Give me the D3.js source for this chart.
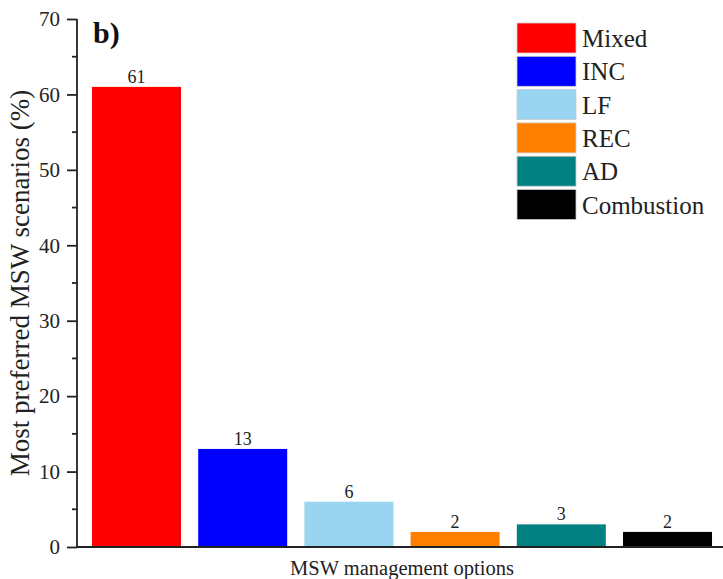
<!DOCTYPE html>
<html><head><meta charset="utf-8">
<script src="https://cdn.jsdelivr.net/npm/d3@7"></script>
<style>body{margin:0;background:#fff}svg{display:block;font-family:"Liberation Serif","Times New Roman",serif}</style>
</head><body><svg id="c" width="723" height="579"></svg>
<script>
const categories = ["Mixed","INC","LF","REC","AD","Combustion"];
const values = [61,13,6,2,3,2];
const colors = ["#ff0000","#0000ff","#99d4f0","#ff8000","#008080","#000000"];
const yTicks = [0,10,20,30,40,50,60,70];
const yMinor = [5,15,25,35,45,55,65];

const svg = d3.select("#c");
const x0 = 77, yTop = 19, yBot = 547;
const y = d3.scaleLinear().domain([0,70]).range([yBot,yTop]);
const x = d3.scaleBand().domain(categories).range([x0,727]).paddingInner(0.162).paddingOuter(0.141);
const col = d3.scaleOrdinal().domain(categories).range(colors);

svg.selectAll("rect.bar").data(categories).join("rect").attr("class","bar")
  .attr("x",d=>x(d)).attr("width",x.bandwidth())
  .attr("y",(d,i)=>y(values[i])).attr("height",(d,i)=>yBot-y(values[i]))
  .attr("fill",d=>col(d));

svg.selectAll("text.val").data(categories).join("text").attr("class","val")
  .attr("x",d=>x(d)+x.bandwidth()/2).attr("y",(d,i)=>y(values[i])-4)
  .attr("text-anchor","middle").attr("font-size",18).attr("fill","#222")
  .text((d,i)=>values[i]);

// y axis
const ya = d3.axisLeft(y).tickValues(yTicks).tickSize(10).tickPadding(7).tickFormat(d3.format("d"));
const g = svg.append("g").attr("transform",`translate(${x0},0)`).call(ya);
g.select(".domain").attr("stroke","#222").attr("stroke-width",1.8).attr("d",`M0,${yTop}V${yBot}`);
g.selectAll(".tick line").attr("stroke","#222").attr("stroke-width",1.8);
g.selectAll(".tick text").attr("font-size",21).attr("fill","#222").attr("font-family","Liberation Serif, Times New Roman, serif");
svg.append("g").selectAll("line").data(yMinor).join("line")
  .attr("x1",x0-5).attr("x2",x0).attr("y1",d=>y(d)).attr("y2",d=>y(d))
  .attr("stroke","#222").attr("stroke-width",1.8);
// x axis line
svg.append("line").attr("x1",x0-1).attr("x2",723).attr("y1",yBot).attr("y2",yBot)
  .attr("stroke","#222").attr("stroke-width",1.8);

svg.append("text").attr("x",93).attr("y",43).attr("font-size",30).attr("font-weight","bold").attr("fill","#111").text("b)");

svg.append("text").attr("transform",`translate(29,283) rotate(-90)`)
  .attr("text-anchor","middle").attr("font-size",27).attr("fill","#222")
  .text("Most preferred MSW scenarios (%)");
svg.append("text").attr("x",402).attr("y",575).attr("text-anchor","middle")
  .attr("font-size",20.5).attr("fill","#222").text("MSW management options");

// legend
const lg = svg.append("g").selectAll("g").data(categories).join("g")
  .attr("transform",(d,i)=>`translate(517,${23+i*33.3})`);
lg.append("rect").attr("width",59).attr("height",30).attr("fill",d=>col(d)).attr("stroke","#ccc").attr("stroke-width",0.8);
lg.append("text").attr("x",65).attr("y",24).attr("font-size",25).attr("fill","#222").text(d=>d);
</script></body></html>
